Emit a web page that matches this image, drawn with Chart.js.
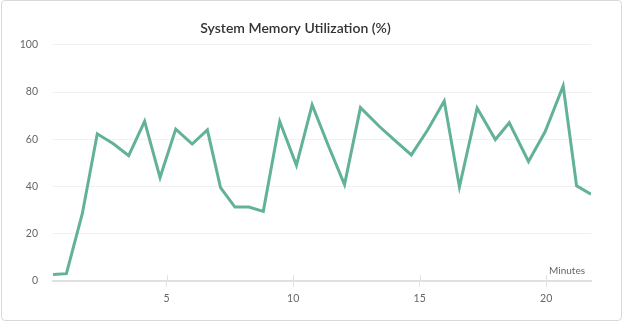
<!DOCTYPE html>
<html>
<head>
<meta charset="utf-8">
<script src="https://cdn.jsdelivr.net/npm/chart.js@4/dist/chart.umd.min.js"></script>
<style>
  html, body { margin: 0; padding: 0; background: #fff; }
  #wrap { position: absolute; left: 0; top: 0; width: 624px; height: 322px; }
  #frame { position: absolute; left: 1px; top: 0px; width: 619px; height: 319px; border: 1px solid #d9d9d9; border-radius: 4px; pointer-events: none; }
</style>
</head>
<body>
<div id="wrap"><canvas id="c" width="624" height="322"></canvas></div>
<div id="frame"></div>
<script>
const title = 'System Memory Utilization (%)';
const xAxisLabel = 'Minutes';
const minutes = [0.51,1.04,1.67,2.26,2.91,3.50,4.13,4.74,5.36,6.01,6.61,7.13,7.70,8.25,8.82,9.47,10.13,10.75,11.38,12.03,12.66,13.41,14.04,14.67,15.32,15.97,16.57,17.27,17.99,18.54,19.30,19.96,20.67,21.20,21.77];
const memoryPct = [2.8,3.1,28.6,62.3,58,53.1,67.6,43.8,64.3,58,64,39.5,31.3,31.3,29.5,67.5,49,74.6,57.6,40.8,73.4,65.4,59.3,53.4,64,76.2,39.8,73.2,59.9,67,50.6,63.3,82.6,40.3,36.7];
const yTicks = [0,20,40,60,80,100];

const points = minutes.map((m, i) => ({ x: m, y: memoryPct[i] }));

const minutesLabelPlugin = {
  id: 'minutesLabel',
  afterDraw(chart) {
    const ctx = chart.ctx;
    const xs = chart.scales.x;
    ctx.save();
    ctx.strokeStyle = '#e3e3e3';
    ctx.lineWidth = 1;
    xs.ticks.forEach((t, i) => {
      const px = Math.round(xs.getPixelForTick(i)) + 0.5;
      ctx.beginPath();
      ctx.moveTo(px, xs.top - 6);
      ctx.lineTo(px, xs.top);
      ctx.stroke();
    });
    ctx.font = '10px Lato';
    ctx.fillStyle = '#666';
    ctx.textAlign = 'right';
    ctx.textBaseline = 'alphabetic';
    ctx.fillText(xAxisLabel, chart.chartArea.right - 6, xs.top - 7);
    ctx.restore();
  }
};

new Chart(document.getElementById('c'), {
  type: 'line',
  data: {
    datasets: [{
      data: points,
      borderColor: '#62b298',
      borderWidth: 3,
      pointRadius: 0,
      fill: false,
      tension: 0
    }]
  },
  options: {
    responsive: false,
    animation: false,
    devicePixelRatio: 1,
    layout: { padding: { left: 0, right: 33, top: 20, bottom: 0 } },
    plugins: {
      legend: { display: false },
      tooltip: { enabled: false },
      title: {
        display: true,
        text: title,
        color: '#333',
        font: { family: 'Lato', size: 14, weight: '600' },
        padding: { top: 0, bottom: 8 }
      }
    },
    scales: {
      x: {
        type: 'linear',
        min: minutes[0],
        max: minutes[minutes.length - 1],
        afterFit(s) { s.height = 41; },
        border: { display: true, color: '#e0e0e0', width: 2 },
        grid: { drawOnChartArea: false, drawTicks: true, tickLength: 6, color: '#e3e3e3' },
        ticks: { stepSize: 5, includeBounds: false, color: '#666', font: { family: 'Lato', size: 10.5 }, padding: 5, maxRotation: 0 }
      },
      y: {
        min: 0,
        max: 100,
        afterFit(s) { s.width = 53; },
        afterBuildTicks(s) { s.ticks = yTicks.map(v => ({ value: v })); },
        border: { display: false },
        grid: { drawTicks: false, color: '#f1f1f1', lineWidth: 1 },
        ticks: { color: '#666', font: { family: 'Lato', size: 10.5 }, padding: 15 }
      }
    }
  },
  plugins: [minutesLabelPlugin]
});
</script>
</body>
</html>
